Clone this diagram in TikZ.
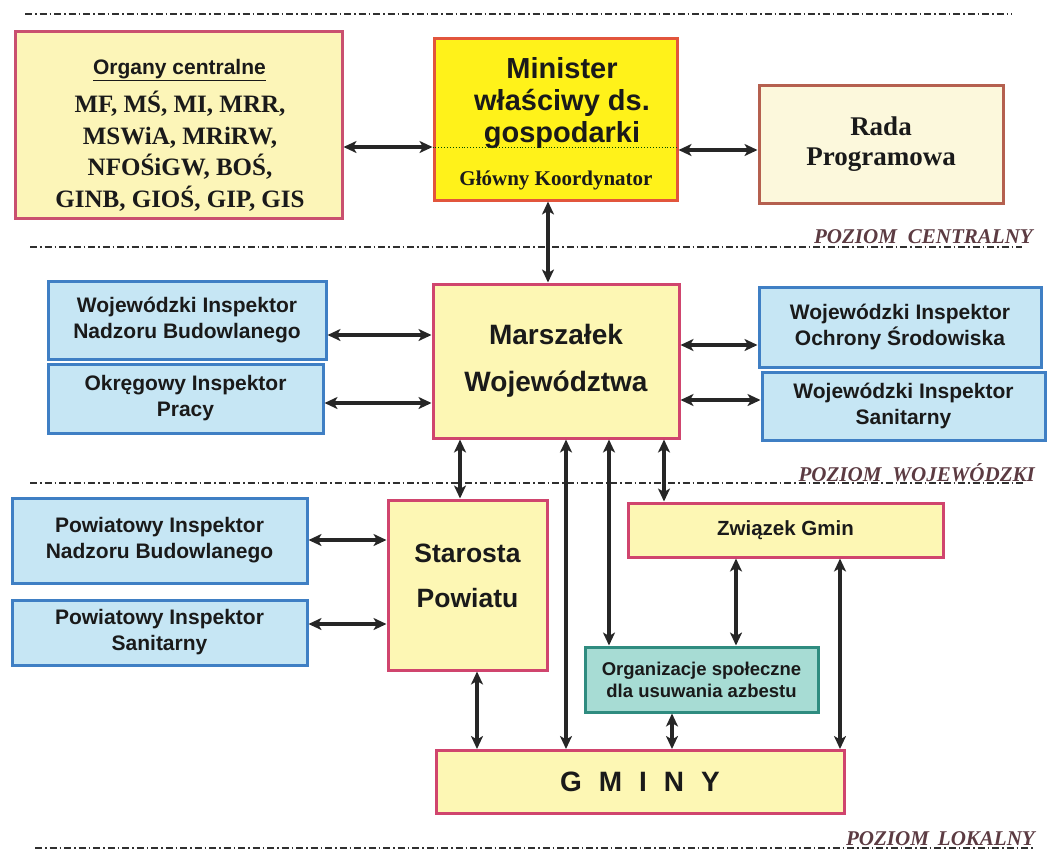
\documentclass[tikz,border=0pt]{standalone}
\usepackage{fontspec}
\setmainfont{Liberation Serif}
\setsansfont{Liberation Sans}
\usetikzlibrary{arrows.meta,calc}
\definecolor{yfill}{HTML}{FDF7B4}
\definecolor{ybord}{HTML}{D0456E}
\definecolor{ofill}{HTML}{FCF5B8}
\definecolor{obord}{HTML}{C9506F}
\definecolor{mfill}{HTML}{FFF21A}
\definecolor{mbord}{HTML}{E2553C}
\definecolor{rfill}{HTML}{FCF8DC}
\definecolor{rbord}{HTML}{B5604F}
\definecolor{bfill}{HTML}{C6E6F4}
\definecolor{bbord}{HTML}{3F7FC4}
\definecolor{tfill}{HTML}{A7DCD4}
\definecolor{tbord}{HTML}{2F8C80}
\definecolor{txt}{HTML}{1A1A1A}
\definecolor{arrc}{HTML}{262626}
\definecolor{lvl}{HTML}{303030}
\definecolor{lvlc}{HTML}{5C3B42}
\begin{document}
\begin{tikzpicture}[x=1pt,y=-1pt,
  box/.style={draw, line width=3pt, inner sep=0pt, align=center, text=txt},
  ybox/.style={box, draw=ybord, fill=yfill},
  bbox/.style={box, draw=bbord, fill=bfill, font=\sffamily\bfseries\fontsize{21}{26}\selectfont},
  tip/.tip={Stealth[length=13pt,width=12pt,inset=3.5pt]},
  arr/.style={tip-tip, line width=3.2pt, draw=arrc},
  level/.style={line width=1.3pt, draw=lvl, dash pattern=on 7pt off 3pt on 1.5pt off 3pt},
  lvltext/.style={font=\bfseries\itshape\fontsize{21}{24}\selectfont, text=lvlc, inner sep=0pt, anchor=base east},
  plain/.style={inner sep=0pt, align=center, text=txt}
]
\useasboundingbox (0,0) rectangle (1049,852);

% level lines
\draw[level] (25,14) -- (1012,14);
\draw[level] (30,247) -- (1022,247);
\draw[level] (30,483) -- (1025,483);
\draw[level] (35,848) -- (1035,848);
\node[lvltext] (pc) at (1033,243) {POZIOM\hspace{11pt}CENTRALNY};
\node[lvltext] (pw) at (1035,481) {POZIOM\hspace{11pt}WOJEWÓDZKI};
\node[lvltext] (pl) at (1035,845) {POZIOM\hspace{9pt}LOKALNY};

% central level
\node[ybox, draw=obord, fill=ofill, minimum width=327pt, minimum height=187pt] (org) at (178.5,124.5) {};
\node[plain, font=\sffamily\bfseries\fontsize{21}{24}\selectfont] (orgt) at (179.5,70) {\underline{Organy centralne}};
\node[plain, font=\bfseries\fontsize{25}{31.5}\selectfont] (orgl) at (180,151) {MF, MŚ, MI, MRR,\\MSWiA, MRiRW,\\NFOŚiGW, BOŚ,\\GINB, GIOŚ, GIP, GIS};

\node[box, draw=mbord, fill=mfill, minimum width=243pt, minimum height=162pt] (min) at (555.5,119) {};
\node[plain, font=\sffamily\bfseries\fontsize{29}{32}\selectfont] (mint) at (562,103) {Minister\\właściwy ds.\\gospodarki};
\draw[dotted, line width=0.9pt, draw=black!70!green] (min.west |- 0,147) -- (min.east |- 0,147);
\node[plain, font=\bfseries\fontsize{21}{24}\selectfont] (koord) at (556,180) {Główny Koordynator};

\node[box, draw=rbord, fill=rfill, minimum width=244pt, minimum height=118pt, font=\bfseries\fontsize{27}{30}\selectfont] (rada) at (881,144) {Rada\\Programowa};

% voivodeship level
\node[ybox, minimum width=246pt, minimum height=154pt, font=\sffamily\bfseries\fontsize{28}{47}\selectfont] (mar) at (556,361) {Marszałek\\Województwa};
\node[bbox, minimum width=278pt, minimum height=78pt] (winb) at (187,320) {Wojewódzki Inspektor\\Nadzoru Budowlanego};
\node[bbox, minimum width=275pt, minimum height=69pt] (oip) at (185.5,398.5) {Okręgowy Inspektor\\Pracy};
\node[bbox, minimum width=282pt, minimum height=80pt] (wios) at (900,327) {Wojewódzki Inspektor\\Ochrony Środowiska};
\node[bbox, minimum width=283pt, minimum height=68pt] (wis) at (903.5,406) {Wojewódzki Inspektor\\Sanitarny};

% local level
\node[ybox, minimum width=159pt, minimum height=170pt] (star) at (467.5,585) {};
\node[plain, font=\sffamily\bfseries\fontsize{26.5}{45}\selectfont] (start) at (467.5,576) {Starosta\\Powiatu};
\node[bbox, minimum width=295pt, minimum height=85pt] (pinb) at (159.5,540.5) {Powiatowy Inspektor\\Nadzoru Budowlanego};
\node[bbox, minimum width=295pt, minimum height=65pt] (pis) at (159.5,632.5) {Powiatowy Inspektor\\Sanitarny};
\node[ybox, minimum width=315pt, minimum height=54pt, font=\sffamily\bfseries\fontsize{20.5}{24}\selectfont] (zg) at (785.5,530) {Związek Gmin};
\node[box, draw=tbord, fill=tfill, minimum width=233pt, minimum height=65pt, font=\sffamily\bfseries\fontsize{18.5}{22}\selectfont] (org2) at (701.5,679.5) {Organizacje społeczne\\dla usuwania azbestu};
\node[ybox, minimum width=408pt, minimum height=63pt, font=\sffamily\bfseries\fontsize{28}{32}\selectfont] (gm) at (640,782) {G\hspace{17pt}M\hspace{17pt}I\hspace{17pt}N\hspace{17pt}Y};

% connectors
\draw[arr] (org.east |- 0,147) -- (min.west |- 0,147);
\draw[arr] (min.east |- 0,150) -- (rada.west |- 0,150);
\draw[arr] (min.south -| 548,0) -- (mar.north -| 548,0);
\draw[arr] (winb.east |- 0,335) -- (mar.west |- 0,335);
\draw[arr] (oip.east |- 0,403) -- (mar.west |- 0,403);
\draw[arr] (mar.east |- 0,345) -- (wios.west |- 0,345);
\draw[arr] (mar.east |- 0,400) -- (wis.west |- 0,400);
\draw[arr] (mar.south -| 460,0) -- (star.north -| 460,0);
\draw[arr] (mar.south -| 566,0) -- (gm.north -| 566,0);
\draw[arr] (mar.south -| 609,0) -- (org2.north -| 609,0);
\draw[arr] (mar.south -| 664,0) -- (zg.north -| 664,0);
\draw[arr] (pinb.east |- 0,540) -- (star.west |- 0,540);
\draw[arr] (pis.east |- 0,624) -- (star.west |- 0,624);
\draw[arr] (star.south -| 477,0) -- (gm.north -| 477,0);
\draw[arr] (zg.south -| 736,0) -- (org2.north -| 736,0);
\draw[arr] (zg.south -| 840,0) -- (gm.north -| 840,0);
\draw[arr] (org2.south -| 672,0) -- (gm.north -| 672,0);
\end{tikzpicture}
\end{document}
